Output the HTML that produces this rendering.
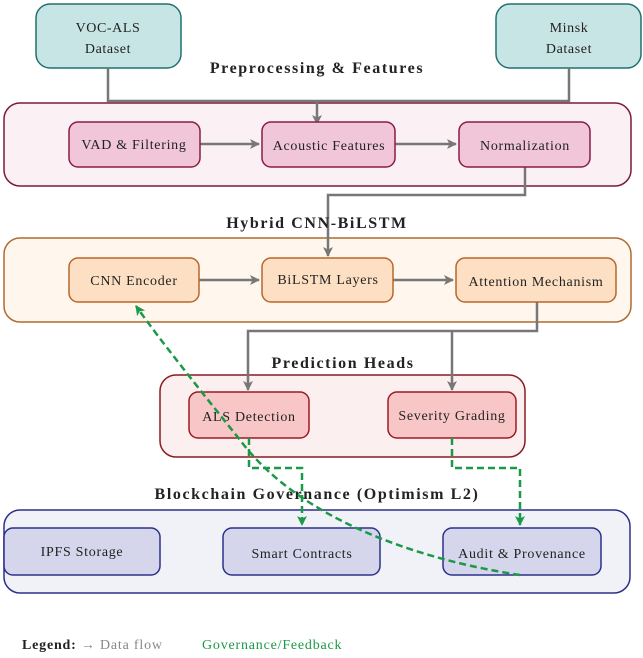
<!DOCTYPE html>
<html><head><meta charset="utf-8"><style>
body{margin:0;background:#fff}
svg text{font-family:"Liberation Serif",serif}
</style></head><body>
<svg width="643" height="653" viewBox="0 0 643 653" xmlns="http://www.w3.org/2000/svg">
<defs>
<marker id="ag" markerWidth="10" markerHeight="10" refX="9" refY="5" orient="auto" markerUnits="userSpaceOnUse"><path d="M0,0 L10,5 L0,10 L2.5,5Z" fill="#777"/></marker>
<marker id="gg" markerWidth="10" markerHeight="10" refX="9" refY="5" orient="auto" markerUnits="userSpaceOnUse"><path d="M0,0 L10,5 L0,10 L2.5,5Z" fill="#1a9a48"/></marker>
</defs>
<rect x="4" y="103" width="627" height="83" rx="16" fill="#fbf0f4" stroke="#7a1a3c" stroke-width="1.5"/>
<rect x="4" y="238" width="627" height="84" rx="16" fill="#fff7ee" stroke="#b06a30" stroke-width="1.5"/>
<rect x="160" y="375" width="365" height="82" rx="16" fill="#fbefef" stroke="#8a1c22" stroke-width="1.5"/>
<rect x="4" y="510" width="626" height="83" rx="16" fill="#f1f1f8" stroke="#2b318a" stroke-width="1.5"/>
<rect x="36" y="4" width="145" height="64" rx="14" fill="#c8e5e5" stroke="#1f7170" stroke-width="1.5"/>
<rect x="496" y="4" width="145" height="64" rx="14" fill="#c8e5e5" stroke="#1f7170" stroke-width="1.5"/>
<g font-size="14" fill="#222" text-anchor="middle" letter-spacing="0.6">
<text x="108" y="32">VOC-ALS</text><text x="108" y="53">Dataset</text>
<text x="569" y="32">Minsk</text><text x="569" y="53">Dataset</text>
</g>
<g stroke="#777" stroke-width="2.5" fill="none">
<path d="M108 68 V101 H569 V68"/>
<path d="M317 101 V124" marker-end="url(#ag)"/>
<path d="M200 144 H259" marker-end="url(#ag)"/>
<path d="M395 144 H456" marker-end="url(#ag)"/>
<path d="M525 167 V195 H328 V256" marker-end="url(#ag)"/>
<path d="M199 280 H259" marker-end="url(#ag)"/>
<path d="M393 280 H453" marker-end="url(#ag)"/>
<path d="M537 302 V331 H248 V390" marker-end="url(#ag)"/>
<path d="M452 331 V390" marker-end="url(#ag)"/>
</g>
<g stroke-width="1.5">
<rect x="69" y="122" width="131" height="45" rx="9" fill="#f0c6d8" stroke="#8a1c48"/>
<rect x="262" y="122" width="133" height="45" rx="9" fill="#f0c6d8" stroke="#8a1c48"/>
<rect x="459" y="122" width="131" height="45" rx="9" fill="#f0c6d8" stroke="#8a1c48"/>
<rect x="69" y="258" width="130" height="44" rx="9" fill="#fde0c4" stroke="#b8662a"/>
<rect x="262" y="258" width="131" height="44" rx="9" fill="#fde0c4" stroke="#b8662a"/>
<rect x="456" y="258" width="160" height="44" rx="9" fill="#fde0c4" stroke="#b8662a"/>
<rect x="189" y="392" width="120" height="46" rx="9" fill="#f8c6c6" stroke="#9a1c22"/>
<rect x="388" y="392" width="128" height="46" rx="9" fill="#f8c6c6" stroke="#9a1c22"/>
<rect x="4" y="528" width="156" height="47" rx="9" fill="#d5d5ec" stroke="#2b318a"/>
<rect x="223" y="528" width="157" height="47" rx="9" fill="#d5d5ec" stroke="#2b318a"/>
<rect x="443" y="528" width="158" height="47" rx="9" fill="#d5d5ec" stroke="#2b318a"/>
</g>
<g font-size="14" fill="#222" text-anchor="middle" letter-spacing="0.7">
<text x="134" y="149">VAD &amp; Filtering</text>
<text x="329" y="150">Acoustic Features</text>
<text x="525" y="150">Normalization</text>
<text x="134" y="285">CNN Encoder</text>
<text x="328" y="284">BiLSTM Layers</text>
<text x="536" y="286">Attention Mechanism</text>
<text x="249" y="421">ALS Detection</text>
<text x="452" y="420">Severity Grading</text>
<text x="82" y="556">IPFS Storage</text>
<text x="302" y="558">Smart Contracts</text>
<text x="522" y="558">Audit &amp; Provenance</text>
</g>
<g font-size="16" font-weight="bold" fill="#222" text-anchor="middle" letter-spacing="1.6">
<text x="317" y="73">Preprocessing &amp; Features</text>
<text x="317" y="228">Hybrid CNN-BiLSTM</text>
<text x="343" y="368">Prediction Heads</text>
<text x="317" y="499">Blockchain Governance (Optimism L2)</text>
</g>
<g stroke="#1a9a48" stroke-width="2.5" fill="none" stroke-dasharray="7,4">
<path d="M249 438 V468 H302 V525" marker-end="url(#gg)"/>
<path d="M452 438 V468 H520 V525" marker-end="url(#gg)"/>
<path d="M520 575 C420 560 300 520 240 440 C200 390 160 340 136 306" marker-end="url(#gg)"/>
</g>
<text x="22" y="649" font-size="14" fill="#222" letter-spacing="0.8"><tspan font-weight="bold">Legend:</tspan><tspan fill="#888"> → Data flow</tspan></text>
<text x="202" y="649" font-size="14" fill="#1a9a48" letter-spacing="0.8">Governance/Feedback</text>
</svg>
</body></html>
